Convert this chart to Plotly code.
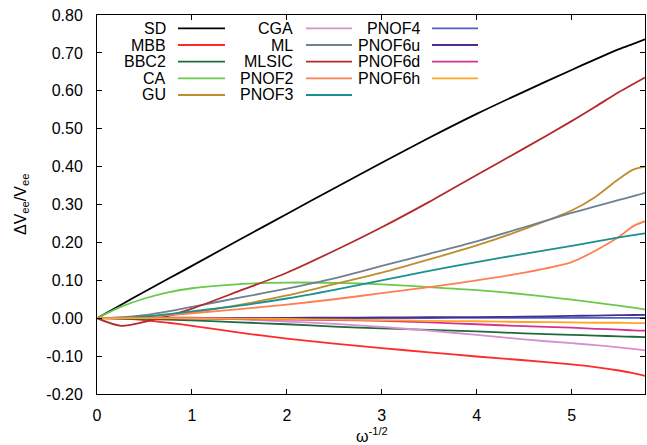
import plotly.graph_objects as go

# ---- data ----
x_vals = [0, 0.25, 0.5, 0.75, 1.0, 1.5, 2.0, 2.5, 3.0, 3.5, 4.0, 4.5, 5.0, 5.25, 5.5, 5.65, 5.7735]

SD     = [0, 0.035, 0.070, 0.104, 0.138, 0.207, 0.275, 0.343, 0.410, 0.476, 0.539, 0.598, 0.655, 0.683, 0.710, 0.724, 0.736]
MBB    = [0, -0.001, -0.005, -0.012, -0.020, -0.038, -0.054, -0.067, -0.079, -0.090, -0.101, -0.111, -0.122, -0.129, -0.138, -0.145, -0.152]
BBC2   = [0, -0.001, -0.002, -0.004, -0.006, -0.011, -0.016, -0.022, -0.027, -0.031, -0.035, -0.040, -0.044, -0.046, -0.048, -0.049, -0.050]
CA     = [0, 0.030, 0.052, 0.068, 0.079, 0.090, 0.094, 0.093, 0.089, 0.082, 0.074, 0.063, 0.049, 0.041, 0.033, 0.028, 0.023]
GU     = [0, 0.001, 0.003, 0.008, 0.015, 0.035, 0.060, 0.090, 0.120, 0.155, 0.192, 0.235, 0.284, 0.320, 0.368, 0.392, 0.400]
CGA    = [0, 0.002, 0.003, 0.003, 0.002, -0.003, -0.009, -0.015, -0.023, -0.033, -0.044, -0.056, -0.066, -0.071, -0.077, -0.081, -0.085]
ML     = [0, 0.002, 0.008, 0.018, 0.030, 0.054, 0.078, 0.105, 0.138, 0.170, 0.203, 0.240, 0.278, 0.295, 0.312, 0.322, 0.331]
MLSIC  = [0, -0.020, -0.010, 0.006, 0.025, 0.072, 0.120, 0.178, 0.240, 0.307, 0.378, 0.448, 0.520, 0.558, 0.597, 0.618, 0.635]
PNOF2  = [0, 0.001, 0.004, 0.008, 0.013, 0.024, 0.036, 0.050, 0.066, 0.082, 0.100, 0.120, 0.148, 0.178, 0.215, 0.243, 0.256]
PNOF3  = [0, 0.001, 0.005, 0.011, 0.018, 0.033, 0.052, 0.075, 0.100, 0.125, 0.148, 0.170, 0.191, 0.202, 0.213, 0.219, 0.224]
PNOF4  = [0, 0, 0, 0, 0, 0, 0, 0, 0, 0.0005, 0.001, 0.001, 0.001, 0.001, 0.001, 0.001, 0.001]
PNOF6u = [0, 0, 0, 0.0005, 0.001, 0.001, 0.001, 0.0015, 0.002, 0.0025, 0.003, 0.004, 0.006, 0.007, 0.008, 0.0085, 0.009]
PNOF6d = [0, 0, 0, -0.0005, -0.001, -0.002, -0.004, -0.005, -0.007, -0.011, -0.016, -0.021, -0.025, -0.028, -0.030, -0.032, -0.033]
PNOF6h = [0, 0, 0, 0, 0, -0.001, -0.002, -0.004, -0.005, -0.007, -0.008, -0.010, -0.011, -0.012, -0.012, -0.013, -0.013]

series_names = ["SD", "MBB", "BBC2", "CA", "GU", "CGA", "ML", "MLSIC",
                "PNOF2", "PNOF3", "PNOF4", "PNOF6u", "PNOF6d", "PNOF6h"]
series_values = [SD, MBB, BBC2, CA, GU, CGA, ML, MLSIC,
                 PNOF2, PNOF3, PNOF4, PNOF6u, PNOF6d, PNOF6h]
series_colors = ["#000000", "#ff2a2a", "#1e6b3c", "#6ac94a", "#c08c30", "#d88fd0", "#708090", "#b22a2a",
                 "#ff7f50", "#1a9090", "#4a62c8", "#4b2e8c", "#d6338f", "#ffa520"]

y_ticks = [-0.2, -0.1, 0.0, 0.1, 0.2, 0.3, 0.4, 0.5, 0.6, 0.7, 0.8]
x_ticks = [0, 1, 2, 3, 4, 5]
x_title = "ω<sup>-1/2</sup>"
y_title = "ΔV<sub>ee</sub>/V<sub>ee</sub>"

FONT = "Liberation Sans, Arial, sans-serif"
FS = 16
W, H = 647, 445
L, R, T, B = 97, 2, 15, 51
PW, PH = W - L - R, H - T - B

fig = go.Figure()
for name, vals, col in zip(series_names, series_values, series_colors):
    fig.add_trace(go.Scatter(x=x_vals, y=vals, mode="lines", name=name,
                             line=dict(color=col, width=1.8, shape="spline", smoothing=0.8),
                             showlegend=False))


def px2paper(px, py):
    return (px - L) / PW, (H - B - py) / PH


# gnuplot-style legend: right-aligned labels followed by a line sample
cols = [(168, 178, 225), (295, 306, 352), (422, 432, 478)]
rows = [28.3, 45, 61.7, 78.3, 95]
shapes = []
annotations = []
for i, (name, col) in enumerate(zip(series_names, series_colors)):
    c = i // 5
    r = i % 5
    tx, lx0, lx1 = cols[c]
    py = rows[r]
    ax, ay = px2paper(tx, py)
    annotations.append(dict(x=ax, y=ay, xref="paper", yref="paper", text=name,
                            showarrow=False, xanchor="right", yanchor="middle",
                            font=dict(family=FONT, size=FS, color="black")))
    x0, y0 = px2paper(lx0, py)
    x1, _ = px2paper(lx1, py)
    shapes.append(dict(type="line", xref="paper", yref="paper", x0=x0, x1=x1, y0=y0, y1=y0,
                       line=dict(color=col, width=1.8)))

# axis titles
tx, ty = px2paper(372, 435)
annotations.append(dict(x=tx, y=ty, xref="paper", yref="paper", text=x_title, showarrow=False,
                        xanchor="center", yanchor="middle", font=dict(family=FONT, size=FS)))
tx, ty = px2paper(21, 205)
annotations.append(dict(x=tx, y=ty, xref="paper", yref="paper", text=y_title, showarrow=False,
                        textangle=-90, xanchor="center", yanchor="middle",
                        font=dict(family=FONT, size=FS)))

fig.update_layout(
    width=W, height=H,
    margin=dict(l=L, r=R, t=T, b=B, pad=0),
    paper_bgcolor="white", plot_bgcolor="white",
    font=dict(family=FONT, size=FS, color="black"),
    shapes=shapes, annotations=annotations,
    xaxis=dict(range=[0, 5.7735], tickvals=x_ticks, ticktext=[str(v) for v in x_ticks],
               ticks="inside", ticklen=5, tickcolor="black", showline=True, linecolor="black",
               linewidth=1, mirror="ticks", showgrid=False, zeroline=False, automargin=False,
               ticklabelstandoff=7),
    yaxis=dict(range=[-0.2, 0.8], tickvals=y_ticks, ticktext=[f"{v:.2f}" for v in y_ticks],
               ticks="inside", ticklen=5, tickcolor="black", showline=True, linecolor="black",
               linewidth=1, mirror="ticks", showgrid=False, zeroline=False, automargin=False,
               ticklabelstandoff=10),
)

fig.write_html("out.html", config={"displayModeBar": False},
               post_script="document.body.style.margin='0px';document.body.style.overflow='hidden';")
